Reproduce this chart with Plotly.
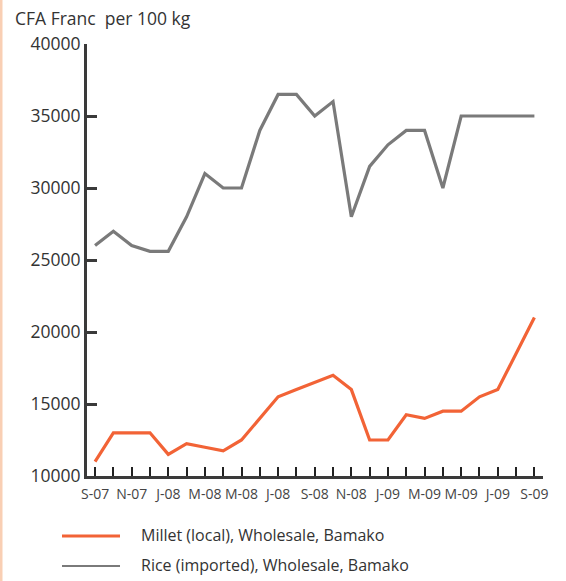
import plotly.graph_objects as go

# Monthly wholesale prices in Bamako, Sep 2007 - Sep 2009 (CFA Franc per 100 kg)
months = [
    "S-07", "O-07", "N-07", "D-07", "J-08", "F-08", "M-08", "A-08", "M-08b",
    "J-08a", "J-08", "A-08b", "S-08", "O-08", "N-08", "D-08", "J-09", "F-09",
    "M-09", "A-09", "M-09b", "J-09a", "J-09", "A-09b", "S-09",
]
tick_labels = ["S-07", "N-07", "J-08", "M-08", "M-08", "J-08", "S-08",
               "N-08", "J-09", "M-09", "M-09", "J-09", "S-09"]

millet = [11000, 13000, 13000, 13000, 11500, 12250, 12000, 11750, 12500,
          14000, 15500, 16000, 16500, 17000, 16000, 12500, 12500, 14250,
          14000, 14500, 14500, 15500, 16000, None, 21000]
rice = [26000, 27000, 26000, 25600, 25600, 28000, 31000, 30000, 30000,
        34000, 36500, 36500, 35000, 36000, 28000, 31500, 33000, 34000,
        34000, 30000, 35000, 35000, 35000, 35000, 35000]

millet_name = "Millet (local), Wholesale, Bamako"
rice_name = "Rice (imported), Wholesale, Bamako"
y_ticks = [10000, 15000, 20000, 25000, 30000, 35000, 40000]

ORANGE = "#f26336"
GREY = "#7a7a7a"
AXIS = "#3a3a3a"
FONT = "Open Sans, Liberation Sans, sans-serif"

idx = list(range(len(months)))

fig = go.Figure()
fig.add_trace(go.Scatter(x=idx, y=rice, mode="lines", name=rice_name,
                         line=dict(color=GREY, width=3.2), connectgaps=True))
fig.add_trace(go.Scatter(x=idx, y=millet, mode="lines", name=millet_name,
                         line=dict(color=ORANGE, width=3.2), connectgaps=True))

tickvals = idx
ticktext = [tick_labels[i // 2] if i % 2 == 0 else "" for i in idx]

fig.update_layout(
    width=566, height=581,
    margin=dict(l=87, r=23, t=44, b=105),
    paper_bgcolor="white", plot_bgcolor="white",
    showlegend=False,
    font=dict(family=FONT, size=13, color="#333333"),
    xaxis=dict(
        range=[-0.44, 24.47], tickmode="array", tickvals=tickvals,
        ticktext=ticktext, ticks="inside", ticklen=9, tickwidth=1.5,
        tickcolor="#222222", showline=True, linecolor=AXIS, linewidth=3,
        showgrid=False, zeroline=False, tickangle=0, ticklabelstandoff=3,
        tickfont=dict(size=14, color="#444444"), fixedrange=True,
    ),
    yaxis=dict(
        range=[10000, 40000], tickmode="array", tickvals=y_ticks,
        ticktext=[str(v) for v in y_ticks], ticks="inside", ticklen=10,
        tickwidth=3, tickcolor=AXIS, showline=True, linecolor=AXIS,
        linewidth=3, showgrid=False, zeroline=False,
        tickfont=dict(size=17.5, color="#333333"), fixedrange=True,
    ),
)

pw, ph = 456.0, 432.0
def px_x(p):
    return (p - 87) / pw
def px_y(p):
    return (476 - p) / ph

# Unit label above the value axis
fig.add_annotation(text="CFA Franc&nbsp; per 100 kg", xref="paper", yref="paper",
                   x=px_x(13), y=px_y(18), xanchor="left", yanchor="middle",
                   showarrow=False,
                   font=dict(size=17.5, color="#333333", family=FONT))

# Legend drawn below the axis
for name, color, ypix in [(millet_name, ORANGE, 536), (rice_name, GREY, 566)]:
    fig.add_shape(type="line", xref="paper", yref="paper",
                  x0=px_x(62), x1=px_x(120), y0=px_y(ypix), y1=px_y(ypix),
                  line=dict(color=color, width=3 if color == ORANGE else 2))
    fig.add_annotation(text=name, xref="paper", yref="paper",
                       x=px_x(139), y=px_y(ypix - 1), xanchor="left",
                       yanchor="middle", showarrow=False,
                       font=dict(size=16, color="#333333", family=FONT))

# Peach strip along the left edge of the page
fig.add_shape(type="rect", xref="paper", yref="paper",
              x0=px_x(0), x1=px_x(2.5), y0=px_y(581), y1=px_y(0),
              fillcolor="#f9cfb4", line=dict(width=0), layer="below")

fig.write_html("out.html")
